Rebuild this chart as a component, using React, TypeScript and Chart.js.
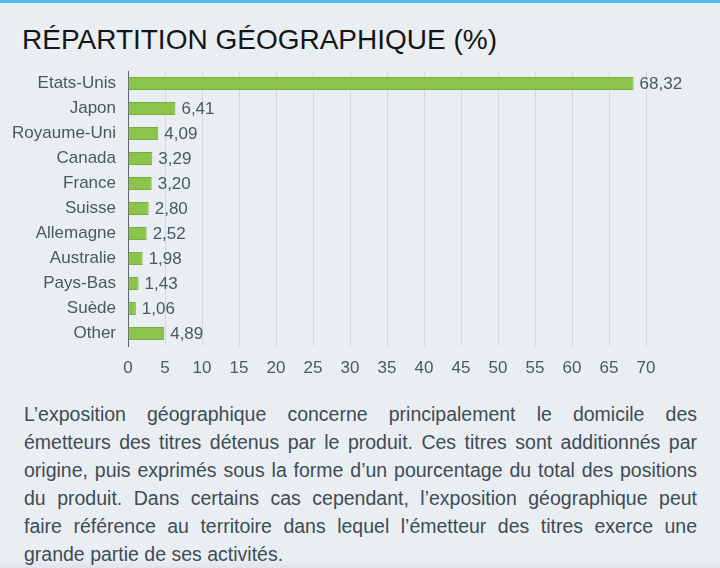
import React, { useEffect, useRef } from "react";
import { Chart, registerables } from "chart.js";

Chart.register(...registerables);

const categories = [
  "Etats-Unis",
  "Japon",
  "Royaume-Uni",
  "Canada",
  "France",
  "Suisse",
  "Allemagne",
  "Australie",
  "Pays-Bas",
  "Suède",
  "Other",
];
const values = [68.32, 6.41, 4.09, 3.29, 3.2, 2.8, 2.52, 1.98, 1.43, 1.06, 4.89];
const xMin = 0;
const xMax = 70;
const xStep = 5;

const titleText = "RÉPARTITION GÉOGRAPHIQUE (%)";
const paragraphLines = [
  "L’exposition géographique concerne principalement le domicile des",
  "émetteurs des titres détenus par le produit. Ces titres sont additionnés par",
  "origine, puis exprimés sous la forme d’un pourcentage du total des positions",
  "du produit. Dans certains cas cependant, l’exposition géographique peut",
  "faire référence au territoire dans lequel l’émetteur des titres exerce une",
  "grande partie de ses activités.",
];

const FONT = "'Liberation Sans', Arial, sans-serif";
const TEXT_COLOR = "#4a5764";

const valueLabelPlugin = {
  id: "valueLabels",
  afterDatasetsDraw(chart: any) {
    const ctx = chart.ctx;
    const meta = chart.getDatasetMeta(0);
    ctx.save();
    ctx.font = `17px ${FONT}`;
    ctx.fillStyle = TEXT_COLOR;
    ctx.textAlign = "left";
    ctx.textBaseline = "middle";
    meta.data.forEach((bar: any, i: number) => {
      const v = chart.data.datasets[0].data[i] as number;
      const txt = v.toFixed(2).replace(".", ",");
      ctx.fillText(txt, bar.x + 6, bar.y + 1);
    });
    ctx.restore();
  },
};

export default function App() {
  const canvasRef = useRef<HTMLCanvasElement | null>(null);

  useEffect(() => {
    document.body.style.margin = "0";
    const canvas = canvasRef.current;
    if (!canvas) return;
    const chart = new Chart(canvas, {
      type: "bar",
      data: {
        labels: categories,
        datasets: [
          {
            data: values,
            backgroundColor: "#8cc44b",
            borderColor: "#79ad3c",
            borderWidth: 1,
            categoryPercentage: 0.52,
            barPercentage: 1,
          },
        ],
      },
      options: {
        indexAxis: "y",
        animation: false,
        responsive: false,
        maintainAspectRatio: false,
        layout: { padding: { top: 11, right: 74, bottom: 0, left: 0 } },
        plugins: {
          legend: { display: false },
          tooltip: { enabled: false },
          title: { display: false },
        },
        scales: {
          x: {
            min: xMin,
            max: xMax,
            ticks: {
              stepSize: xStep,
              color: TEXT_COLOR,
              font: { size: 17, family: FONT },
              padding: 12,
              maxRotation: 0,
            },
            grid: {
              color: "#d3d8dd",
              lineWidth: 1,
              drawTicks: false,
            },
            border: { display: false },
            afterFit: (scale: any) => {
              scale.height = 44;
              scale.paddingLeft = 0;
              scale.paddingRight = 0;
            },
          },
          y: {
            ticks: {
              color: TEXT_COLOR,
              font: { size: 17, family: FONT },
              padding: 12,
            },
            grid: { display: false, drawTicks: false },
            border: { display: true, color: "#5f666d", width: 1 },
            afterFit: (scale: any) => {
              scale.width = 128;
              scale.paddingTop = 0;
              scale.paddingBottom = 0;
            },
          },
        },
      } as any,
      plugins: [valueLabelPlugin],
    });
    return () => chart.destroy();
  }, []);

  return (
    <div
      style={{
        position: "fixed",
        left: 0,
        top: 0,
        width: 720,
        height: 568,
        background: "#e9eef2",
        overflow: "hidden",
        fontFamily: FONT,
      }}
    >
      <div
        style={{
          position: "absolute",
          left: 0,
          top: 0,
          width: 720,
          height: 3,
          background: "#55b8e6",
        }}
      />
      <div
        style={{
          position: "absolute",
          left: 0,
          bottom: 0,
          width: 720,
          height: 8,
          background: "linear-gradient(#e9eef2, #dfe4e8)",
        }}
      />
      <div
        style={{
          position: "absolute",
          left: 22,
          top: 24,
          fontSize: 28,
          lineHeight: "32px",
          color: "#151515",
          whiteSpace: "nowrap",
        }}
      >
        {titleText}
      </div>
      <canvas
        ref={canvasRef}
        width={720}
        height={330}
        style={{ position: "absolute", left: 0, top: 60, width: 720, height: 330 }}
      />
      <div
        style={{
          position: "absolute",
          left: 24,
          top: 400,
          width: 673,
          fontSize: 19.5,
          lineHeight: "28px",
          color: "#3f4b56",
        }}
      >
        {paragraphLines.map((line, i) => (
          <div
            key={i}
            style={{
              textAlign: i < paragraphLines.length - 1 ? "justify" : "left",
              textAlignLast: i < paragraphLines.length - 1 ? "justify" : "left",
              whiteSpace: "nowrap",
            }}
          >
            {line}
          </div>
        ))}
      </div>
    </div>
  );
}
